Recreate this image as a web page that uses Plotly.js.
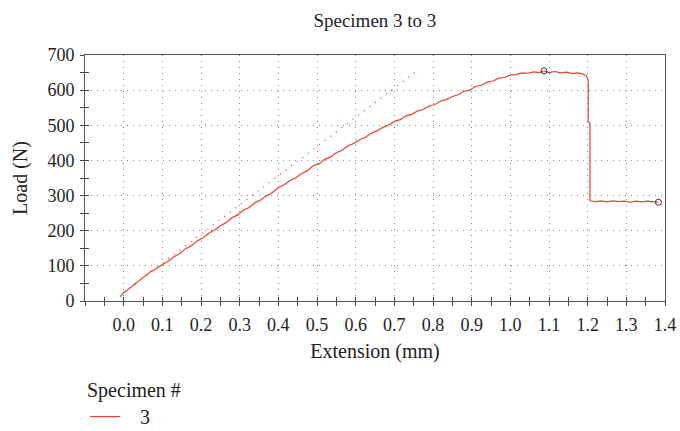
<!DOCTYPE html>
<html>
<head>
<meta charset="utf-8">
<script src="https://cdn.plot.ly/plotly-3.0.1.min.js"></script>
<style>html,body{margin:0;padding:0;background:#fff;}#chart{width:680px;height:431px;}</style>
</head>
<body>
<div id="chart"></div>
<script>
// Specimen 3 load-extension curve
const extension = [-0.009,0.000,0.010,0.020,0.030,0.040,0.050,0.060,0.070,0.080,0.090,0.100,0.115,0.130,0.145,0.160,0.175,0.190,0.205,0.220,0.235,0.250,0.265,0.280,0.295,0.310,0.325,0.340,0.355,0.370,0.385,0.400,0.415,0.430,0.445,0.460,0.475,0.490,0.505,0.520,0.535,0.550,0.565,0.580,0.595,0.610,0.625,0.640,0.655,0.670,0.685,0.700,0.715,0.730,0.745,0.760,0.775,0.790,0.805,0.820,0.835,0.850,0.865,0.880,0.895,0.910,0.925,0.940,0.955,0.970,0.985,1.000,1.015,1.030,1.045,1.060,1.075,1.087,1.100,1.115,1.130,1.145,1.160,1.175,1.190,1.197,1.2015,1.2015,1.206,1.206,1.220,1.235,1.250,1.265,1.280,1.295,1.310,1.325,1.340,1.355,1.370,1.383];
const load = [12,24,31,41,49,58,67,74,84,89,97,104,113,126,135,149,157,171,180,193,202,214,223,237,245,259,266,280,288,300,309,323,331,343,350,363,371,385,390,403,410,422,429,442,448,459,466,477,484,494,500,511,516,527,531,541,545,555,559,569,573,582,587,597,600,611,614,623,626,634,636,643,644,649,648,652,650,655,650,653,649,651,647,649,645,640,628,510,505,285,283,285,282,285,283,284,281,284,282,284,282,281];
// modulus (tangent) line
const tangentX = [0.0, 0.753];
const tangentY = [24, 650];
// marked points: peak and break
const markX = [1.087, 1.383];
const markY = [655, 281];
const xTickVals = [0.0,0.1,0.2,0.3,0.4,0.5,0.6,0.7,0.8,0.9,1.0,1.1,1.2,1.3,1.4];
const xTickText = ["0.0","0.1","0.2","0.3","0.4","0.5","0.6","0.7","0.8","0.9","1.0","1.1","1.2","1.3","1.4"];
const yTickVals = [0,100,200,300,400,500,600,700];
const seriesName = '\u00a0\u00a0\u00a03';

const red = '#e8432f';
const font = "'Liberation Serif', 'DejaVu Serif', serif";
const ink = '#222';

const traces = [
  {x: tangentX, y: tangentY, mode: 'lines', line: {color: red, width: 1.3, dash: '1px,6px'}, showlegend: false, hoverinfo: 'skip'},
  {x: extension, y: load, mode: 'lines', name: seriesName, line: {color: red, width: 1.2}},
  {x: markX, y: markY, mode: 'markers', marker: {symbol: 'circle-open', size: 6, color: '#333', line: {width: 1}}, showlegend: false},
  {x: [], y: [], xaxis: 'x2', yaxis: 'y2', showlegend: false}
];

const layout = {
  width: 680, height: 431,
  margin: {l: 85, r: 15, t: 55, b: 130, autoexpand: false},
  paper_bgcolor: '#fff', plot_bgcolor: '#fff',
  font: {family: font, size: 18, color: ink},
  title: {text: 'Specimen 3 to 3', x: 0.5513, xanchor: 'center', y: 0.953, yanchor: 'middle', font: {family: font, size: 19, color: ink}},
  xaxis: {
    range: [-0.1, 1.4], tickmode: 'array', tickvals: xTickVals, ticktext: xTickText, automargin: false,
    ticks: 'outside', ticklen: 4, tickcolor: '#444', ticklabelstandoff: 3,
    tickfont: {family: font, size: 18, color: ink},
    minor: {tickmode: 'linear', tick0: -0.1, dtick: 0.05, ticks: 'outside', ticklen: 4, tickcolor: '#444', showgrid: false},
    showgrid: true, gridcolor: '#888', griddash: '1px,5px', gridwidth: 1,
    showline: true, mirror: true, linecolor: '#555', linewidth: 1, zeroline: false,
    title: {text: 'Extension (mm)', standoff: 10, font: {family: font, size: 20, color: ink}}
  },
  yaxis: {
    range: [0, 700], tickmode: 'array', tickvals: yTickVals, automargin: false,
    ticks: 'outside', ticklen: 4, tickcolor: '#444', ticklabelstandoff: 2,
    tickfont: {family: font, size: 18, color: ink},
    minor: {tickmode: 'linear', tick0: 0, dtick: 50, ticks: 'outside', ticklen: 4, tickcolor: '#444', showgrid: false},
    showgrid: true, gridcolor: '#888', griddash: '1px,5px', gridwidth: 1,
    showline: true, mirror: true, linecolor: '#555', linewidth: 1, zeroline: false,
    title: {text: 'Load (N)', standoff: 14, font: {family: font, size: 20, color: ink}}
  },
  xaxis2: {overlaying: 'x', matches: 'x', range: [-0.1, 1.4], anchor: 'y2', side: 'bottom', showticklabels: false, showgrid: false, zeroline: false,
    tickmode: 'linear', tick0: -0.1, dtick: 0.05, ticks: 'inside', ticklen: 4, tickcolor: '#444'},
  yaxis2: {overlaying: 'y', matches: 'y', range: [0, 700], anchor: 'x2', side: 'left', showticklabels: false, showgrid: false, zeroline: false,
    tickmode: 'linear', tick0: 0, dtick: 50, ticks: 'inside', ticklen: 4, tickcolor: '#444'},
  showlegend: true,
  legend: {x: 0.0, xanchor: 'left', y: -0.285, yanchor: 'top', orientation: 'v',
    title: {text: 'Specimen #', font: {family: font, size: 20, color: ink}},
    font: {family: font, size: 20, color: ink}, bgcolor: 'rgba(0,0,0,0)', tracegroupgap: 0}
};

Plotly.newPlot('chart', traces, layout, {staticPlot: true, displayModeBar: false});
</script>
</body>
</html>
